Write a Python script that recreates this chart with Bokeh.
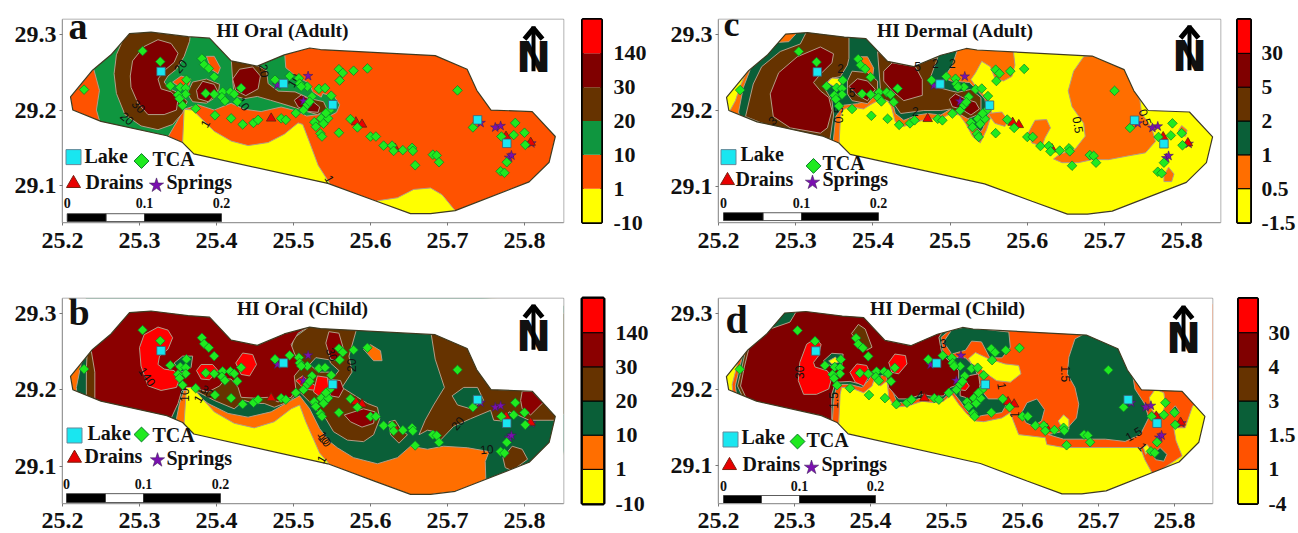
from math import pi
from bokeh.plotting import figure
from bokeh.layouts import column, row
from bokeh.models import FixedTicker, ColumnDataSource
from bokeh.core.properties import value
from bokeh.embed import file_html
from bokeh.resources import INLINE

# ---------- shared data (longitude, latitude) ----------
OUTLINE = [(25.2104,29.2174),(25.239,29.2527),(25.263,29.273),(25.287,29.301),(25.315,29.303),(25.363,29.297),(25.391,29.295),(25.419,29.265),(25.453,29.258),(25.488,29.273),(25.521,29.282),(25.535,29.280),(25.684,29.272),(25.7255,29.254),(25.738,29.226),(25.7565,29.200),(25.81,29.198),(25.840,29.165),(25.832,29.131),(25.806,29.105),(25.710,29.067),(25.678,29.063),(25.652,29.063),(25.606,29.080),(25.5446,29.103),(25.3706,29.142),(25.356,29.157),(25.3355,29.166),(25.25,29.185),(25.2134,29.200)]
TCA_LON = [25.304,25.327,25.340,25.353,25.361,25.360,25.360,25.350,25.352,25.356,25.373,25.381,25.384,25.390,25.397,25.386,25.397,25.398,25.408,25.407,25.411,25.418,25.423,25.427,25.432,25.419,25.434,25.448,25.454,25.484,25.490,25.503,25.513,25.518,25.524,25.518,25.533,25.541,25.507,25.495,25.476,25.508,25.510,25.521,25.527,25.529,25.536,25.539,25.545,25.535,25.537,25.228,25.547,25.559,25.564,25.560,25.578,25.596,25.549,25.542,25.559,25.574,25.583,25.600,25.607,25.617,25.628,25.630,25.642,25.654,25.655,25.658,25.681,25.686,25.689,25.713,25.733,25.770,25.786,25.800,25.788,25.801,25.769,25.774,25.777]
TCA_LAT = [29.278,29.264,29.232,29.230,29.240,29.229,29.221,29.220,29.215,29.206,29.202,29.268,29.260,29.255,29.244,29.222,29.221,29.193,29.224,29.217,29.212,29.224,29.221,29.211,29.229,29.189,29.181,29.183,29.187,29.189,29.187,29.196,29.200,29.207,29.218,29.231,29.228,29.229,29.242,29.245,29.240,29.235,29.231,29.211,29.184,29.178,29.189,29.182,29.189,29.169,29.165,29.227,29.200,29.254,29.249,29.239,29.252,29.255,29.219,29.196,29.170,29.188,29.177,29.165,29.165,29.153,29.153,29.146,29.147,29.150,29.146,29.127,29.141,29.140,29.131,29.226,29.177,29.165,29.167,29.170,29.183,29.154,29.119,29.117,29.131]
LAKE_LON = [25.328,25.487,25.551,25.739,25.777]
LAKE_LAT = [29.251,29.235,29.207,29.187,29.156]
DRAIN_LON = [25.471,25.581,25.589,25.632,25.776,25.808]
DRAIN_LAT = [29.189,29.184,29.181,29.149,29.165,29.157]
SPRING_LON = [25.519,25.479,25.513,25.762,25.769,25.743,25.809,25.780,25.783]
SPRING_LAT = [29.245,29.233,29.212,29.177,29.179,29.183,29.156,29.137,29.140]
X_TICKS = [25.2,25.3,25.4,25.5,25.6,25.7,25.8]
Y_TICKS = [29.1,29.2,29.3]
TITLES = ["HI Oral (Adult)","HI Oral (Child)","HI Dermal (Adult)","HI Dermal (Child)"]
BAR_LABELS_A = ["-10","1","10","20","30","140"]
BAR_LABELS_B = ["-10","1","10","20","30","140"]
BAR_LABELS_C = ["-1.5","0.5","1","2","5","30"]
BAR_LABELS_D = ["-4","1","1.5","3","4","30"]

# ---------- panel a regions ----------
A_GREEN = [(25.239,29.260),(25.248,29.226),(25.244,29.200),(25.250,29.179),(25.335,29.161),(25.350,29.187),(25.358,29.201),(25.376,29.207),(25.397,29.200),(25.419,29.209),(25.436,29.201),(25.458,29.198),(25.484,29.204),(25.503,29.199),(25.517,29.192),(25.534,29.194),(25.547,29.192),(25.556,29.197),(25.560,29.207),(25.553,29.218),(25.538,29.222),(25.536,29.217),(25.525,29.224),(25.521,29.235),(25.503,29.245),(25.490,29.256),(25.488,29.282),(25.454,29.273),(25.423,29.282),(25.389,29.308),(25.285,29.312),(25.239,29.286)]
A_BROWN1 = [(25.285,29.308),(25.270,29.273),(25.267,29.248),(25.270,29.222),(25.281,29.194),(25.302,29.179),(25.324,29.174),(25.343,29.181),(25.356,29.196),(25.362,29.211),(25.352,29.222),(25.339,29.228),(25.332,29.237),(25.337,29.245),(25.348,29.254),(25.358,29.271),(25.365,29.291),(25.367,29.308)]
A_DARK1 = [(25.288,29.245),(25.291,29.265),(25.306,29.284),(25.324,29.293),(25.341,29.288),(25.350,29.275),(25.345,29.263),(25.332,29.252),(25.324,29.241),(25.328,29.228),(25.341,29.224),(25.350,29.215),(25.348,29.200),(25.332,29.194),(25.311,29.194),(25.298,29.209),(25.289,29.230)]
A_BROWN2 = [(25.362,29.222),(25.369,29.237),(25.387,29.241),(25.404,29.234),(25.402,29.219),(25.387,29.209),(25.369,29.211)]
A_DARK2 = [(25.374,29.226),(25.382,29.238),(25.397,29.234),(25.402,29.224),(25.389,29.211),(25.376,29.215)]
A_ORANGE1 = [(25.343,29.237),(25.354,29.245),(25.367,29.241),(25.363,29.230),(25.350,29.232)]
A_ORANGE2 = [(25.387,29.271),(25.397,29.271),(25.405,29.256),(25.402,29.248),(25.393,29.254)]
A_BROWN3 = [(25.419,29.269),(25.454,29.258),(25.465,29.252),(25.467,29.235),(25.480,29.225),(25.502,29.224),(25.522,29.215),(25.539,29.211),(25.544,29.200),(25.531,29.194),(25.511,29.200),(25.493,29.206),(25.470,29.213),(25.453,29.218),(25.436,29.215),(25.423,29.219),(25.421,29.239)]
A_DARK3 = [(25.421,29.241),(25.430,29.254),(25.447,29.257),(25.457,29.245),(25.454,29.228),(25.438,29.219),(25.425,29.226)]
A_DARK4 = [(25.501,29.213),(25.510,29.220),(25.523,29.213),(25.534,29.204),(25.532,29.197),(25.519,29.198),(25.506,29.204)]
A_YELLOW1 = [(25.358,29.201),(25.369,29.200),(25.380,29.189),(25.397,29.172),(25.419,29.159),(25.441,29.153),(25.467,29.157),(25.488,29.168),(25.506,29.183),(25.512,29.181),(25.521,29.157),(25.532,29.127),(25.547,29.103),(25.547,29.071),(25.354,29.123),(25.356,29.157)]
A_YELLOW2 = [(25.609,29.080),(25.635,29.084),(25.656,29.095),(25.678,29.097),(25.693,29.088),(25.710,29.067),(25.710,29.050),(25.609,29.050)]

# ---------- panel b regions ----------
B_GREEN = [(25.229,29.248),(25.224,29.233),(25.218,29.203),(25.220,29.180),(25.337,29.149),(25.348,29.162),(25.352,29.182),(25.358,29.200),(25.376,29.192),(25.389,29.182),(25.415,29.169),(25.441,29.164),(25.471,29.171),(25.497,29.186),(25.508,29.192),(25.521,29.175),(25.534,29.149),(25.547,29.132),(25.557,29.124),(25.578,29.111),(25.609,29.103),(25.635,29.111),(25.652,29.126),(25.674,29.122),(25.695,29.126),(25.726,29.124),(25.754,29.119),(25.749,29.106),(25.750,29.074),(25.838,29.072),(25.864,29.162),(25.864,29.309),(25.65,29.33),(25.23,29.33)]
B_BROWN_E = [(25.678,29.278),(25.684,29.240),(25.696,29.203),(25.682,29.180),(25.671,29.160),(25.663,29.141),(25.674,29.147),(25.684,29.145),(25.691,29.134),(25.708,29.152),(25.730,29.162),(25.756,29.173),(25.760,29.160),(25.771,29.159),(25.780,29.171),(25.791,29.167),(25.806,29.160),(25.842,29.160),(25.864,29.180),(25.864,29.30),(25.678,29.30)]
B_HOLE = [(25.706,29.192),(25.721,29.203),(25.739,29.203),(25.747,29.186),(25.730,29.175),(25.713,29.180)]
B_DARK_NE = [(25.797,29.198),(25.810,29.198),(25.824,29.183),(25.808,29.167),(25.797,29.175),(25.795,29.186)]
B_BROWN_SE = [(25.772,29.111),(25.784,29.126),(25.797,29.122),(25.804,29.109),(25.784,29.094),(25.775,29.098)]
B_ORANGE_TOP = [(25.591,29.253),(25.600,29.259),(25.613,29.251),(25.615,29.238),(25.604,29.238)]
B_BROWN_S = [(25.624,29.158),(25.632,29.160),(25.639,29.149),(25.648,29.141),(25.637,29.130),(25.626,29.141)]
B_BROWN_MID = [(25.495,29.248),(25.501,29.268),(25.521,29.283),(25.521,29.309),(25.581,29.309),(25.581,29.276),(25.572,29.244),(25.576,29.223),(25.563,29.203),(25.596,29.182),(25.609,29.177),(25.612,29.162),(25.604,29.141),(25.591,29.132),(25.570,29.134),(25.552,29.145),(25.542,29.162),(25.532,29.171),(25.521,29.184),(25.508,29.197),(25.493,29.184),(25.475,29.177),(25.462,29.182),(25.449,29.182),(25.436,29.186),(25.423,29.175),(25.397,29.186),(25.376,29.197),(25.361,29.203),(25.423,29.223)]
B_BROWN_W = [(25.232,29.248),(25.231,29.227),(25.231,29.192),(25.246,29.180),(25.246,29.261)]
B_DARK_MAIN = [(25.237,29.253),(25.242,29.223),(25.242,29.186),(25.250,29.158),(25.339,29.158),(25.350,29.182),(25.355,29.199),(25.376,29.201),(25.389,29.197),(25.404,29.205),(25.411,29.214),(25.419,29.214),(25.428,29.203),(25.432,29.190),(25.449,29.189),(25.467,29.190),(25.480,29.184),(25.497,29.190),(25.503,29.201),(25.501,29.218),(25.510,29.229),(25.501,29.248),(25.497,29.259),(25.506,29.274),(25.521,29.283),(25.521,29.313),(25.237,29.313)]
B_GREEN_STRIP = [(25.521,29.233),(25.529,29.242),(25.547,29.239),(25.548,29.235),(25.559,29.225),(25.552,29.216),(25.547,29.223),(25.532,29.223)]
B_DARK_TOP = [(25.542,29.261),(25.546,29.276),(25.559,29.274),(25.565,29.253),(25.559,29.238),(25.548,29.240)]
B_DARK_S = [(25.566,29.167),(25.591,29.175),(25.606,29.171),(25.604,29.156),(25.589,29.151),(25.574,29.158)]
B_DARK_E = [(25.544,29.214),(25.561,29.212),(25.565,29.201),(25.559,29.190),(25.548,29.192)]
B_GREEN_W = [(25.345,29.235),(25.356,29.244),(25.369,29.244),(25.367,29.229),(25.354,29.223)]
B_RED1 = [(25.300,29.255),(25.306,29.272),(25.324,29.282),(25.337,29.278),(25.343,29.268),(25.337,29.253),(25.326,29.244),(25.324,29.233),(25.332,29.227),(25.345,29.225),(25.352,29.214),(25.348,29.203),(25.328,29.199),(25.311,29.205),(25.302,29.231)]
B_RED2 = [(25.374,29.225),(25.380,29.233),(25.395,29.233),(25.402,29.225),(25.391,29.213),(25.380,29.214)]
B_RED3 = [(25.425,29.235),(25.434,29.248),(25.447,29.246),(25.452,29.233),(25.443,29.218),(25.432,29.220)]
B_RED4 = [(25.503,29.212),(25.512,29.218),(25.521,29.210),(25.529,29.205),(25.529,29.199),(25.514,29.201)]
B_RED5 = [(25.531,29.218),(25.544,29.216),(25.546,29.201),(25.535,29.190),(25.526,29.197)]
B_YELLOW = [(25.361,29.203),(25.369,29.203),(25.380,29.190),(25.397,29.171),(25.423,29.156),(25.449,29.150),(25.475,29.158),(25.497,29.175),(25.508,29.180),(25.516,29.158),(25.534,29.117),(25.547,29.102),(25.547,29.07),(25.358,29.11),(25.358,29.158)]

# ---------- panel c regions ----------
C_ORANGE = [(25.238,29.254),(25.228,29.232),(25.222,29.213),(25.215,29.200),(25.237,29.179),(25.356,29.153),(25.358,29.192),(25.361,29.201),(25.371,29.205),(25.388,29.202),(25.399,29.209),(25.410,29.215),(25.416,29.217),(25.424,29.205),(25.429,29.185),(25.440,29.179),(25.458,29.185),(25.471,29.189),(25.488,29.189),(25.501,29.196),(25.512,29.194),(25.520,29.183),(25.529,29.166),(25.539,29.157),(25.547,29.174),(25.554,29.196),(25.549,29.215),(25.536,29.228),(25.527,29.241),(25.533,29.250),(25.541,29.265),(25.552,29.258),(25.558,29.243),(25.569,29.239),(25.580,29.245),(25.584,29.260),(25.582,29.278),(25.582,29.31),(25.238,29.31)]
C_GREEN = [(25.241,29.254),(25.232,29.230),(25.226,29.198),(25.232,29.170),(25.348,29.153),(25.352,29.192),(25.362,29.207),(25.380,29.209),(25.393,29.213),(25.401,29.220),(25.414,29.224),(25.425,29.213),(25.429,29.196),(25.440,29.187),(25.458,29.194),(25.471,29.196),(25.488,29.194),(25.501,29.202),(25.516,29.200),(25.529,29.181),(25.540,29.172),(25.543,29.177),(25.549,29.196),(25.545,29.215),(25.534,29.228),(25.525,29.237),(25.501,29.239),(25.492,29.243),(25.503,29.260),(25.510,29.282),(25.510,29.308),(25.237,29.308)]
C_ORANGE_NW = [(25.276,29.290),(25.284,29.303),(25.302,29.303),(25.291,29.291)]
C_BROWN_W = [(25.315,29.306),(25.306,29.288),(25.280,29.278),(25.256,29.258),(25.245,29.235),(25.235,29.192),(25.267,29.179),(25.344,29.159),(25.349,29.194),(25.347,29.213),(25.336,29.232),(25.345,29.242),(25.358,29.245),(25.367,29.260),(25.369,29.269),(25.369,29.306)]
C_DARK_W = [(25.267,29.222),(25.278,29.250),(25.302,29.271),(25.332,29.284),(25.349,29.275),(25.347,29.263),(25.332,29.248),(25.323,29.237),(25.332,29.226),(25.343,29.217),(25.347,29.200),(25.341,29.177),(25.332,29.170),(25.293,29.177),(25.271,29.192)]
C_BROWN_M1 = [(25.367,29.239),(25.373,29.252),(25.393,29.250),(25.406,29.239),(25.406,29.224),(25.393,29.209),(25.373,29.213),(25.367,29.222)]
C_DARK_M1 = [(25.369,29.232),(25.380,29.242),(25.393,29.239),(25.403,29.228),(25.393,29.213),(25.380,29.220)]
C_BROWN_M2 = [(25.406,29.278),(25.425,29.263),(25.455,29.259),(25.473,29.267),(25.484,29.270),(25.475,29.245),(25.479,29.232),(25.501,29.226),(25.510,29.224),(25.527,29.228),(25.540,29.217),(25.540,29.196),(25.523,29.189),(25.501,29.202),(25.488,29.200),(25.466,29.200),(25.436,29.196),(25.427,29.209),(25.414,29.215),(25.406,29.213),(25.410,29.226)]
C_DARK_M2 = [(25.414,29.252),(25.425,29.263),(25.455,29.258),(25.464,29.241),(25.464,29.220),(25.440,29.213),(25.425,29.226),(25.414,29.239)]
C_DARK_E = [(25.499,29.215),(25.507,29.222),(25.520,29.215),(25.533,29.211),(25.538,29.202),(25.527,29.194),(25.514,29.202),(25.503,29.205)]
C_ORANGE_P1 = [(25.382,29.271),(25.393,29.271),(25.401,29.256),(25.399,29.239),(25.388,29.252)]
C_YELLOW_P = [(25.341,29.237),(25.347,29.243),(25.360,29.242),(25.358,29.232),(25.349,29.232)]
C_CENTER = [(25.684,29.273),(25.673,29.271),(25.660,29.252),(25.653,29.226),(25.658,29.205),(25.673,29.183),(25.675,29.166),(25.662,29.149),(25.642,29.142),(25.634,29.136),(25.645,29.131),(25.666,29.131),(25.684,29.135),(25.705,29.135),(25.731,29.140),(25.753,29.144),(25.766,29.159),(25.761,29.178),(25.748,29.196),(25.746,29.213),(25.727,29.256),(25.714,29.269)]
C_SMALL1 = [(25.601,29.170),(25.610,29.187),(25.625,29.188),(25.630,29.177),(25.623,29.164),(25.619,29.153),(25.606,29.157)]
C_SMALL2 = [(25.777,29.114),(25.783,29.125),(25.790,29.116),(25.787,29.106),(25.777,29.106)]
C_SMALL3 = [(25.796,29.174),(25.800,29.180),(25.807,29.174),(25.805,29.166),(25.798,29.167)]
C_SMALL4 = [(25.549,29.196),(25.567,29.198),(25.575,29.187),(25.571,29.179),(25.558,29.183)]

# ---------- panel d regions ----------
D_ORANGE = [(25.231,29.254),(25.225,29.234),(25.218,29.207),(25.220,29.181),(25.351,29.141),(25.358,29.152),(25.360,29.194),(25.362,29.203),(25.373,29.203),(25.391,29.196),(25.402,29.205),(25.405,29.214),(25.413,29.205),(25.422,29.212),(25.424,29.190),(25.432,29.177),(25.450,29.179),(25.468,29.185),(25.483,29.183),(25.496,29.185),(25.507,29.194),(25.516,29.181),(25.527,29.168),(25.538,29.159),(25.549,29.158),(25.573,29.163),(25.584,29.170),(25.588,29.159),(25.595,29.141),(25.630,29.137),(25.632,29.128),(25.654,29.124),(25.687,29.124),(25.713,29.124),(25.755,29.124),(25.761,29.108),(25.772,29.088),(25.810,29.113),(25.802,29.133),(25.799,29.150),(25.814,29.150),(25.824,29.179),(25.862,29.19),(25.862,29.313),(25.231,29.313)]
D_GREEN = [(25.234,29.254),(25.228,29.230),(25.222,29.205),(25.226,29.181),(25.349,29.146),(25.352,29.190),(25.356,29.207),(25.373,29.207),(25.389,29.203),(25.397,29.212),(25.402,29.221),(25.413,29.218),(25.424,29.221),(25.428,29.201),(25.435,29.183),(25.450,29.183),(25.468,29.190),(25.483,29.188),(25.496,29.188),(25.507,29.199),(25.518,29.185),(25.527,29.172),(25.538,29.163),(25.546,29.166),(25.573,29.170),(25.579,29.181),(25.571,29.188),(25.555,29.188),(25.546,29.199),(25.542,29.216),(25.538,29.227),(25.531,29.236),(25.525,29.242),(25.507,29.243),(25.496,29.247),(25.493,29.269),(25.505,29.279),(25.507,29.313),(25.234,29.313)]
D_GREEN_NE = [(25.507,29.279),(25.522,29.282),(25.529,29.282),(25.582,29.276),(25.584,29.256),(25.573,29.242),(25.557,29.242),(25.546,29.263),(25.533,29.264),(25.525,29.252),(25.507,29.247),(25.496,29.263)]
D_GREEN_C = [(25.682,29.274),(25.669,29.267),(25.661,29.243),(25.659,29.221),(25.669,29.203),(25.674,29.181),(25.671,29.163),(25.656,29.146),(25.634,29.141),(25.654,29.135),(25.682,29.135),(25.709,29.135),(25.735,29.132),(25.755,29.141),(25.766,29.163),(25.761,29.181),(25.748,29.201),(25.744,29.225),(25.733,29.252),(25.722,29.258)]
D_GREEN_S1 = [(25.599,29.170),(25.606,29.183),(25.619,29.188),(25.629,29.174),(25.625,29.159),(25.614,29.152),(25.604,29.157)]
D_GREEN_S2 = [(25.772,29.115),(25.781,29.124),(25.790,29.115),(25.786,29.106),(25.775,29.108)]
D_GREEN_S3 = [(25.795,29.172),(25.801,29.179),(25.806,29.172),(25.803,29.166),(25.796,29.167)]
D_YELLOW1 = [(25.647,29.159),(25.654,29.167),(25.661,29.161),(25.661,29.148),(25.652,29.150)]
D_YELLOW2 = [(25.767,29.190),(25.775,29.201),(25.786,29.196),(25.788,29.181),(25.784,29.168),(25.773,29.170),(25.769,29.176)]
D_YELLOW3 = [(25.759,29.124),(25.764,29.128),(25.768,29.122),(25.762,29.115)]
D_YELLOW4 = [(25.529,29.241),(25.538,29.249),(25.555,29.241),(25.577,29.234),(25.595,29.232),(25.598,29.221),(25.584,29.210),(25.566,29.212),(25.553,29.221),(25.542,29.230),(25.533,29.234)]
D_BROWN_W = [(25.238,29.263),(25.231,29.230),(25.225,29.205),(25.234,29.186),(25.255,29.225)]
D_DARK = [(25.242,29.263),(25.234,29.230),(25.229,29.205),(25.237,29.188),(25.349,29.155),(25.349,29.194),(25.354,29.210),(25.373,29.211),(25.389,29.207),(25.395,29.216),(25.400,29.223),(25.413,29.225),(25.419,29.225),(25.424,29.203),(25.437,29.188),(25.450,29.188),(25.468,29.194),(25.483,29.191),(25.496,29.192),(25.505,29.203),(25.516,29.207),(25.516,29.225),(25.507,29.234),(25.494,29.247),(25.490,29.269),(25.496,29.278),(25.496,29.313),(25.242,29.313)]
D_PATCH_NW = [(25.268,29.280),(25.283,29.304),(25.303,29.304),(25.294,29.289)]
D_BROWN_N = [(25.375,29.274),(25.384,29.286),(25.393,29.280),(25.402,29.256),(25.395,29.252),(25.384,29.263)]
D_GREEN_W = [(25.338,29.238),(25.349,29.248),(25.364,29.247),(25.362,29.230),(25.347,29.232)]
D_YELLOW_W = [(25.345,29.238),(25.354,29.243),(25.358,29.236),(25.349,29.234)]
D_DARK_E = [(25.518,29.207),(25.527,29.218),(25.542,29.221),(25.544,29.207),(25.542,29.190),(25.529,29.178),(25.525,29.190),(25.518,29.192)]
D_RED1 = [(25.307,29.236),(25.316,29.260),(25.327,29.267),(25.335,29.260),(25.332,29.245),(25.325,29.236),(25.327,29.230),(25.343,29.225),(25.349,29.216),(25.345,29.201),(25.329,29.194),(25.312,29.194),(25.305,29.212)]
D_RED2 = [(25.373,29.223),(25.382,29.234),(25.395,29.232),(25.400,29.221),(25.391,29.205),(25.380,29.210)]
D_RED3 = [(25.424,29.236),(25.432,29.247),(25.446,29.245),(25.448,29.234),(25.437,29.221),(25.428,29.223)]
D_RED4 = [(25.516,29.205),(25.525,29.212),(25.530,29.205),(25.525,29.199),(25.518,29.200)]

# ---------- contour labels: lon, lat, text, angle in degrees ----------
A_CONTOUR = [(25.353,29.258,"20",50),(25.299,29.205,"30",-45),(25.284,29.189,"20",-40),(25.462,29.252,"20",-80),(25.435,29.208,"10",-55),(25.385,29.182,"1",60),(25.500,29.239,"10",60),(25.547,29.109,"1",-60)]
B_CONTOUR = [(25.310,29.217,"140",-55),(25.358,29.193,"10",90),(25.376,29.188,"1",60),(25.388,29.198,"30",-40),(25.540,29.137,"10",-60),(25.536,29.109,"1",60),(25.575,29.232,"20",90),(25.550,29.246,"30",-70),(25.713,29.156,"20",50),(25.751,29.122,"10",5),(25.541,29.134,"10",-50)]
C_CONTOUR = [(25.270,29.187,"3",45),(25.358,29.256,"2",0),(25.458,29.258,"5",0),(25.481,29.262,"2",0),(25.503,29.262,"2",0),(25.666,29.181,"0.5",-80),(25.753,29.191,"0.5",-70),(25.455,29.199,"2",0),(25.355,29.194,"0.5",90),(25.373,29.224,"5",0)]
D_CONTOUR = [(25.306,29.223,"30",90),(25.656,29.221,"1.5",-90),(25.746,29.142,"1.5",30),(25.573,29.205,"1",-80),(25.758,29.125,"1",-50),(25.351,29.186,"1.5",90),(25.496,29.261,"3",0),(25.465,29.193,"4",0),(25.590,29.167,"1",90)]

# ---------- styles ----------
YEL, RED, BRN = "#FFFF00", "#FF0000", "#663300"
C_A = [YEL, "#FF5200", "#0F963F", BRN, "#800000", RED]
C_B = [YEL, "#FF6E00", "#0A5F38", BRN, "#8B0000", RED]
C_C = [YEL, "#FF6E00", "#0A5F38", BRN, "#800000", RED]
C_D = [YEL, "#FF5200", "#0A5F38", BRN, "#800000", RED]
SERIF = value("Liberation Serif")
BASELINE_SHIFT = 0.42

def frame_panel(cfg):
    xs = 25.2 + cfg["w"] / cfg["sx"]
    y0 = cfg["lat_top"] - cfg["h"] / cfg["sy"]
    p = figure(width=cfg["W"], height=cfg["H"], x_range=(25.2, xs), y_range=(y0, cfg["lat_top"]),
               min_border_left=cfg["bl"], min_border_right=cfg["br"], min_border_top=cfg["bt"], min_border_bottom=cfg["bb"],
               toolbar_location=None, output_backend="svg", tools="")
    p.grid.visible = False
    p.outline_line_color = "#999999"
    p.outline_line_width = 1.5
    for ax, ticks in ((p.xaxis[0], X_TICKS), (p.yaxis[0], Y_TICKS)):
        ax.ticker = FixedTicker(ticks=ticks)
        ax.minor_tick_line_color = None
        ax.axis_line_color = "#999999"
        ax.major_tick_line_color = "#777777"
        ax.major_tick_out = 3
        ax.major_tick_in = 0
        ax.major_label_text_font = "Liberation Serif"
        ax.major_label_text_font_style = "bold"
        ax.major_label_text_font_size = cfg["tick_fs"]
        ax.major_label_text_color = "#111111"
    p.xaxis[0].major_label_standoff = cfg["x_standoff"]
    p.xaxis[0].major_label_text_line_height = cfg["x_lh"]
    p.yaxis[0].major_label_standoff = 3
    p.xaxis[0].formatter.use_scientific = False
    return p

def bar(labels, colors, cfg):
    p = figure(width=cfg["W"], height=cfg["H"], x_range=(0, 1), y_range=(0, 6), x_axis_type=None, y_axis_location="right",
               min_border_left=cfg["bl"], min_border_right=cfg["br"], min_border_top=cfg["bt"], min_border_bottom=cfg["bb"],
               toolbar_location=None, output_backend="svg", tools="")
    p.grid.visible = False
    idx = list(range(6))
    p.quad(left=0, right=1, bottom=idx, top=[i + 1 for i in idx], fill_color=colors,
           line_color=cfg.get("sep"), line_width=1)
    p.outline_line_color = "black"
    p.outline_line_width = cfg["lw"]
    ax = p.yaxis[0]
    ax.ticker = FixedTicker(ticks=idx)
    ax.major_label_overrides = {i: s for i, s in enumerate(labels)}
    ax.axis_line_color = None
    ax.major_tick_line_color = None
    ax.minor_tick_line_color = None
    ax.major_label_standoff = cfg["standoff"]
    ax.major_label_text_font = "Liberation Serif"
    ax.major_label_text_font_style = "bold"
    ax.major_label_text_font_size = cfg["fs"]
    ax.major_label_text_color = "#111111"
    return p

def draw(cfg, layers, colors, contour, title, letter):
    p = frame_panel(cfg)
    X = lambda px: 25.2 + (px - cfg["left"]) / cfg["sx"]
    Y = lambda py: cfg["lat_top"] - (py - cfg["top"]) / cfg["sy"]
    olon = [a for a, _ in OUTLINE]
    olat = [b for _, b in OUTLINE]
    p.patch(olon, olat, fill_color=colors[cfg["base"]], line_color=None)
    for pts, c in layers:
        p.patch([a for a, _ in pts], [b for _, b in pts], fill_color=colors[c], line_color="#B39C86", line_width=1)
    # white mask outside the outline so regions stop at the boundary
    p.multi_polygons(xs=[[[[25.0, 26.0, 26.0, 25.0], olon]]], ys=[[[[29.0, 29.0, 29.4, 29.4], olat]]],
                     fill_color="white", line_color=None)
    p.patch(olon, olat, fill_color=None, line_color="#3F3A20", line_width=1.2)
    src = ColumnDataSource(dict(x=[c[0] for c in contour], y=[c[1] for c in contour],
                                t=[c[2] for c in contour], a=[c[3] for c in contour]))
    p.text("x", "y", text="t", angle="a", angle_units="deg", source=src, text_font=value("Liberation Sans"),
           text_font_size="12px", text_align="center", text_baseline="middle", text_color="#111111")
    # measured points
    p.scatter(SPRING_LON, SPRING_LAT, marker="star", size=10, fill_color="#7A0FB0", line_color="#40205A", line_width=0.6)
    p.scatter(DRAIN_LON, DRAIN_LAT, marker="triangle", size=9.5, fill_color="#E80000", line_color="#5A2A10", line_width=0.8)
    p.scatter(TCA_LON, TCA_LAT, marker="square", angle=pi / 4, size=6.8, fill_color="#1FEA1F", line_color="#0A7A2A", line_width=0.7)
    p.scatter(LAKE_LON, LAKE_LAT, marker="square", size=8.5, fill_color="#19E6F0", line_color="#406070", line_width=0.8)

    def txt(px, py, s, size, align="left", font=SERIF):
        shift = BASELINE_SHIFT * float(size.replace("px", ""))
        p.text([X(px)], [Y(py - shift)], text=[s], text_font=font, text_font_style="bold", text_font_size=size,
               text_align=align, text_baseline="alphabetic", text_color="#111111")

    txt(cfg["title"][0], cfg["title"][1], title, "19.5px", "center")
    txt(cfg["letter"][0], cfg["letter"][1], letter, cfg["letter"][2])
    # legend
    lg = cfg["legend"]
    p.scatter([X(lg["lake"][0])], [Y(lg["lake"][1])], marker="square", size=15, fill_color="#19E6F0", line_color="#668899", line_width=1)
    p.scatter([X(lg["tca"][0])], [Y(lg["tca"][1])], marker="square", angle=pi / 4, size=10.5, fill_color="#1FEA1F", line_color="#0A7A2A", line_width=1)
    p.scatter([X(lg["drain"][0])], [Y(lg["drain"][1])], marker="triangle", size=14, fill_color="#E80000", line_color="#7A2010", line_width=1)
    p.scatter([X(lg["spring"][0])], [Y(lg["spring"][1])], marker="star", size=15, fill_color="#7A0FB0", line_color="#40205A", line_width=0.6)
    for key, s in (("lake_t", "Lake"), ("tca_t", "TCA"), ("drain_t", "Drains"), ("spring_t", "Springs")):
        txt(lg[key][0], lg[key][1], s, "20px")
    # scale bar
    sb = cfg["scale"]
    x0, x1, x2, x3 = sb["x"]
    p.quad(left=[X(x0), X(x1), X(x2)], right=[X(x1), X(x2), X(x3)], bottom=Y(sb["y"][1]), top=Y(sb["y"][0]),
           fill_color=["black", "white", "black"], line_color="#333333", line_width=0.8)
    for px, s in ((x0, "0"), (x2, "0.1"), (x3, "0.2")):
        txt(px, sb["label_y"], s, "14px", "center")
    # north sign
    n = cfg["north"]
    txt(n[0], n[1] + 14, "N", "42px", "center", font=value("DejaVu Sans"))
    p.line([X(n[0]), X(n[0])], [Y(n[2]), Y(n[2] + 46)], line_color="black", line_width=4)
    p.line([X(n[0] - 9), X(n[0]), X(n[0] + 9)], [Y(n[2] + 13), Y(n[2] + 2), Y(n[2] + 13)], line_color="black", line_width=5)
    return p

cfg_a = dict(W=579, H=270, bl=62, br=16, bt=14, bb=48, w=501, h=208, left=62, top=14, sx=770, sy=775, lat_top=29.3197,
             base=1, tick_fs="24px", x_standoff=7, x_lh=1.2, title=(282, 33), letter=(68, 37, "38px"),
             legend=dict(lake=(73, 155), lake_t=(84, 162), tca=(141, 159), tca_t=(152, 165), drain=(73, 182), drain_t=(85, 189), spring=(156, 184), spring_t=(166, 189)),
             scale=dict(x=(66.7, 105.7, 144, 221), y=(213, 221), label_y=208), north=(533, 57, 21))
cfg_b = dict(W=579, H=263, bl=62, br=16, bt=25, bb=30, w=501, h=208, left=62, top=295, sx=770, sy=775, lat_top=29.3194,
             base=1, tick_fs="24px", x_standoff=6, x_lh=0.8, title=(302, 313), letter=(68, 325, "38px"),
             legend=dict(lake=(74, 434), lake_t=(87, 440), tca=(141, 433), tca_t=(152, 442), drain=(74, 457), drain_t=(84, 463), spring=(157, 459), spring_t=(166, 465)),
             scale=dict(x=(66, 105, 143, 220), y=(493, 502), label_y=489), north=(533, 337, 301))
cfg_c = dict(W=571, H=270, bl=55, br=14, bt=17, bb=45, w=502, h=208, left=718, top=17, sx=772, sy=775, lat_top=29.3203,
             base=0, tick_fs="24px", x_standoff=7, x_lh=1.2, title=(954.5, 36), letter=(723, 37, "36px"),
             legend=dict(lake=(728, 158), lake_t=(740, 163), tca=(813, 167), tca_t=(822, 172), drain=(727, 182), drain_t=(735, 189), spring=(812, 184), spring_t=(822, 189)),
             scale=dict(x=(723, 762.7, 801, 878), y=(215, 223), label_y=211), north=(1189, 59, 23))
cfg_d = dict(W=572, H=263, bl=55, br=23, bt=28, bb=30, w=494, h=205, left=718, top=298, sx=760, sy=760, lat_top=29.3201,
             base=0, tick_fs="24px", x_standoff=6, x_lh=0.8, title=(947, 316), letter=(725, 336, "40px"),
             legend=dict(lake=(730, 439), lake_t=(741, 445), tca=(797, 441), tca_t=(806, 448), drain=(729, 465), drain_t=(742, 472), spring=(811, 467), spring_t=(821, 472)),
             scale=dict(x=(723, 761, 799, 875), y=(495, 503), label_y=491), north=(1183, 342, 305))

layers_a = [(A_GREEN,2),(A_ORANGE1,1),(A_ORANGE2,1),(A_BROWN1,3),(A_DARK1,4),(A_BROWN2,3),(A_DARK2,4),(A_BROWN3,3),(A_DARK3,4),(A_DARK4,4),(A_YELLOW1,0),(A_YELLOW2,0)]
layers_b = [(B_GREEN,2),(B_ORANGE_TOP,1),(B_BROWN_E,3),(B_HOLE,2),(B_DARK_NE,4),(B_BROWN_SE,3),(B_BROWN_S,3),(B_BROWN_MID,3),(B_BROWN_W,3),(B_DARK_MAIN,4),(B_GREEN_STRIP,2),(B_DARK_TOP,4),(B_DARK_S,4),(B_DARK_E,4),(B_GREEN_W,2),(B_RED1,5),(B_RED2,5),(B_RED3,5),(B_RED4,5),(B_RED5,5),(B_YELLOW,0)]
layers_c = [(C_ORANGE,1),(C_GREEN,2),(C_ORANGE_NW,1),(C_ORANGE_P1,1),(C_BROWN_W,3),(C_YELLOW_P,0),(C_DARK_W,4),(C_BROWN_M1,3),(C_DARK_M1,4),(C_BROWN_M2,3),(C_DARK_M2,4),(C_DARK_E,4),(C_CENTER,1),(C_SMALL1,1),(C_SMALL2,1),(C_SMALL3,1),(C_SMALL4,1)]
layers_d = [(D_ORANGE,1),(D_GREEN,2),(D_GREEN_NE,2),(D_GREEN_C,2),(D_GREEN_S1,2),(D_GREEN_S2,2),(D_GREEN_S3,2),(D_YELLOW1,0),(D_YELLOW2,0),(D_YELLOW3,0),(D_YELLOW4,0),(D_BROWN_W,3),(D_DARK,4),(D_PATCH_NW,2),(D_BROWN_N,3),(D_GREEN_W,2),(D_YELLOW_W,0),(D_DARK_E,4),(D_RED1,5),(D_RED2,5),(D_RED3,5),(D_RED4,5)]

pa = draw(cfg_a, layers_a, C_A, A_CONTOUR, TITLES[0], "a")
pb = draw(cfg_b, layers_b, C_B, B_CONTOUR, TITLES[1], "b")
pc = draw(cfg_c, layers_c, C_C, C_CONTOUR, TITLES[2], "c")
pd = draw(cfg_d, layers_d, C_D, D_CONTOUR, TITLES[3], "d")

ba = bar(BAR_LABELS_A, C_A, dict(W=84, H=270, bl=3, br=62, bt=15, bb=37, lw=3, standoff=6, fs="22px"))
bb = bar(BAR_LABELS_B, C_B, dict(W=84, H=263, bl=3, br=60, bt=24, bb=30, lw=4, standoff=6, fs="22px", sep="black"))
bc = bar(BAR_LABELS_C, C_C, dict(W=64, H=270, bl=3, br=41, bt=19, bb=37, lw=3, standoff=5, fs="21.5px", sep="black"))
bd = bar(BAR_LABELS_D, C_D, dict(W=63, H=263, bl=3, br=40, bt=25, bb=29, lw=3, standoff=5, fs="21.5px", sep="black"))

page = column(row(pa, ba, pc, bc, spacing=0), row(pb, bb, pd, bd, spacing=0), spacing=0)
open("out.html", "w").write(file_html(page, INLINE))
